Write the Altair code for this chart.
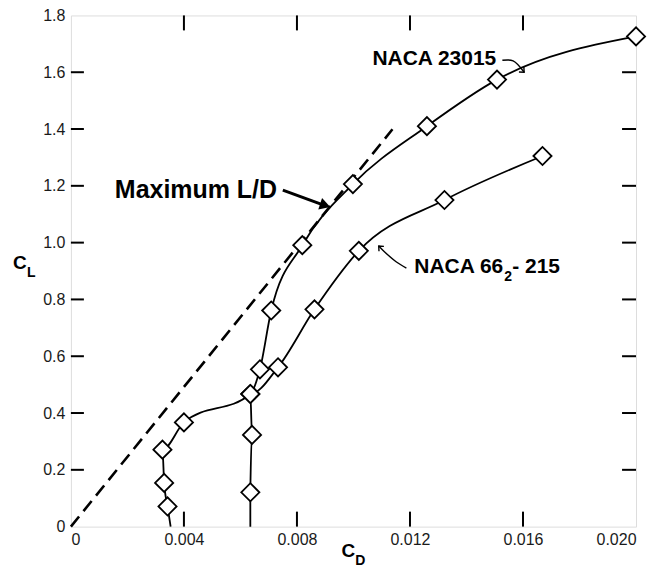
import altair as alt
import pandas as pd

# ---- data ----
# NACA 23015 (diamond markers)
cd_23015 = [0.00342, 0.00330, 0.00324, 0.00400, 0.00635, 0.00669, 0.00709, 0.00819, 0.00998, 0.01260, 0.01508, 0.02000]
cl_23015 = [0.071, 0.154, 0.271, 0.367, 0.467, 0.554, 0.761, 0.991, 1.206, 1.410, 1.574, 1.726]
# NACA 66_2-215 (diamond markers)
cd_66215 = [0.00635, 0.00641, 0.00635, 0.00733, 0.00862, 0.01019, 0.01322, 0.01669]
cl_66215 = [0.121, 0.323, 0.467, 0.561, 0.765, 0.971, 1.150, 1.305]
# where the curves meet the CD axis (line only, no marker)
cd_base = {"NACA 23015": 0.00353, "NACA 66-215": 0.00635}

# maximum L/D tangent line
cd_tangent = [0.0, 0.01138]
cl_tangent = [0.0, 1.399]

x_ticks = [0.0, 0.004, 0.008, 0.012, 0.016, 0.020]
y_ticks = [0.0, 0.2, 0.4, 0.6, 0.8, 1.0, 1.2, 1.4, 1.6, 1.8]
x_inner = [0.004, 0.008, 0.012, 0.016]
y_inner = [0.2, 0.4, 0.6, 0.8, 1.0, 1.2, 1.4, 1.6]

W, H = 566, 512
XMAX, YMAX = 0.02, 1.8
FONT = "Liberation Sans"

pts = pd.DataFrame(
    [{"series": "NACA 23015", "cd": a, "cl": b} for a, b in zip(cd_23015, cl_23015)]
    + [{"series": "NACA 66-215", "cd": a, "cl": b} for a, b in zip(cd_66215, cl_66215)]
)
lines = pd.concat(
    [pd.DataFrame([{"series": s, "cd": v, "cl": 0.0} for s, v in cd_base.items()]), pts],
    ignore_index=True,
)
tangent = pd.DataFrame({"cd": cd_tangent, "cl": cl_tangent})

xs = alt.Scale(domain=[0, XMAX], nice=False, zero=False)
ys = alt.Scale(domain=[0, YMAX], nice=False, zero=False)
X = alt.X("cd:Q", scale=xs, axis=alt.Axis(
    values=x_ticks, title=None, grid=False, domain=False, ticks=False,
    labelExpr="datum.value == 0 ? '0' : format(datum.value, '.3f')",
    labelFont=FONT, labelFontSize=16, labelColor="#1a1a1a", labelPadding=5))
Y = alt.Y("cl:Q", scale=ys, axis=alt.Axis(
    values=y_ticks, title=None, grid=False, domain=False, ticks=False,
    labelExpr="datum.value == 0 ? '0' : format(datum.value, '.1f')",
    labelFont=FONT, labelFontSize=16, labelColor="#1a1a1a", labelPadding=6))

curve = alt.Chart(lines).mark_line(
    interpolate="monotone", orient="horizontal", color="black", strokeWidth=1.8
).encode(x=X, y=Y, detail="series:N")

dash = alt.Chart(tangent).mark_line(
    color="black", strokeWidth=2.6, strokeDash=[13, 7]
).encode(x="cd:Q", y="cl:Q")

marks = alt.Chart(pts).mark_point(
    shape="diamond", size=330, filled=True, fill="white", stroke="black",
    strokeWidth=1.8, opacity=1
).encode(x="cd:Q", y="cl:Q")

# inward tick marks on all four sides (length ~14 px, converted to data units)
lx = 14 / W * XMAX
ly = 15 / H * YMAX
tick_rows = []
k = 0
for v in x_inner:
    tick_rows += [{"id": k, "o": 0, "cd": v, "cl": 0.0}, {"id": k, "o": 1, "cd": v, "cl": ly}]
    k += 1
    tick_rows += [{"id": k, "o": 0, "cd": v, "cl": YMAX}, {"id": k, "o": 1, "cd": v, "cl": YMAX - ly}]
    k += 1
for v in y_inner:
    tick_rows += [{"id": k, "o": 0, "cd": 0.0, "cl": v}, {"id": k, "o": 1, "cd": lx * 0.93, "cl": v}]
    k += 1
    tick_rows += [{"id": k, "o": 0, "cd": XMAX, "cl": v}, {"id": k, "o": 1, "cd": XMAX - lx, "cl": v}]
    k += 1
ticks = alt.Chart(pd.DataFrame(tick_rows)).mark_line(
    color="black", strokeWidth=2
).encode(x="cd:Q", y="cl:Q", detail="id:N", order="o:Q")

# annotations (text, data coordinates)
labels = pd.DataFrame([
    {"t": "Maximum L/D", "cd": 0.001555, "cl": 1.157, "s": 25},
    {"t": "NACA 23015", "cd": 0.01067, "cl": 1.624, "s": 21},
    {"t": "NACA 66", "cd": 0.012155, "cl": 0.893, "s": 21},
    {"t": "2", "cd": 0.01534, "cl": 0.866, "s": 14},
    {"t": "- 215", "cd": 0.01562, "cl": 0.893, "s": 21},
    {"t": "C", "cd": -0.00205, "cl": 0.907, "s": 19},
    {"t": "L", "cd": -0.00155, "cl": 0.880, "s": 14},
    {"t": "C", "cd": 0.00958, "cl": -0.1055, "s": 19},
    {"t": "D", "cd": 0.01006, "cl": -0.1336, "s": 14},
])
text = alt.Chart(labels).mark_text(
    align="left", baseline="alphabetic", font=FONT, fontWeight="bold", color="black"
).encode(x="cd:Q", y="cl:Q", text="t:N", size=alt.Size("s:Q", scale=None, legend=None))

# arrows
arrows = pd.DataFrame([
    {"a": "ld", "o": 0, "cd": 0.00750, "cl": 1.185},
    {"a": "ld", "o": 1, "cd": 0.00890, "cl": 1.134},
    {"a": "n23", "o": 0, "cd": 0.01527, "cl": 1.642},
    {"a": "n23", "o": 1, "cd": 0.01565, "cl": 1.640},
    {"a": "n23", "o": 2, "cd": 0.01604, "cl": 1.600},
    {"a": "n66", "o": 0, "cd": 0.011873, "cl": 0.9106},
    {"a": "n66", "o": 1, "cd": 0.011509, "cl": 0.9327},
    {"a": "n66", "o": 2, "cd": 0.011095, "cl": 0.9679},
    {"a": "n66", "o": 3, "cd": 0.010894, "cl": 0.9879},
])
arrow_lines = alt.Chart(arrows).mark_line(
    color="black", interpolate="catmull-rom"
).encode(
    x="cd:Q", y="cl:Q", detail="a:N", order="o:Q",
    strokeWidth=alt.condition("datum.a == 'ld'", alt.value(3), alt.value(1.4)),
)

head_ld = pd.DataFrame([{"cd": 0.00900, "cl": 1.131, "ang": 18}])
ld_head = alt.Chart(head_ld).mark_point(
    shape="triangle-right", filled=True, color="black", size=150, opacity=1
).encode(x="cd:Q", y="cl:Q", angle=alt.Angle("ang:Q", scale=None))

heads_open = pd.DataFrame([
    {"cd": 0.01604, "cl": 1.600, "ang": 45},
    {"cd": 0.010894, "cl": 0.9879, "ang": 225},
])
open_heads = alt.Chart(heads_open).mark_point(
    shape="M-1,-0.9L0,0L-1,0.9", filled=False, stroke="black", strokeWidth=1.4,
    size=60, opacity=1
).encode(x="cd:Q", y="cl:Q", angle=alt.Angle("ang:Q", scale=None))

chart = alt.layer(
    curve, ticks, dash, marks, arrow_lines, ld_head, open_heads, text,
).properties(
    width=W, height=H,
    autosize=alt.AutoSizeParams(type="none"),
    padding={"left": 63, "top": 7, "right": 14, "bottom": 40},
).configure_view(
    stroke="black", strokeWidth=2.2
).configure(background="white")

chart.save("out.html", embed_options={"renderer": "svg", "actions": False})
